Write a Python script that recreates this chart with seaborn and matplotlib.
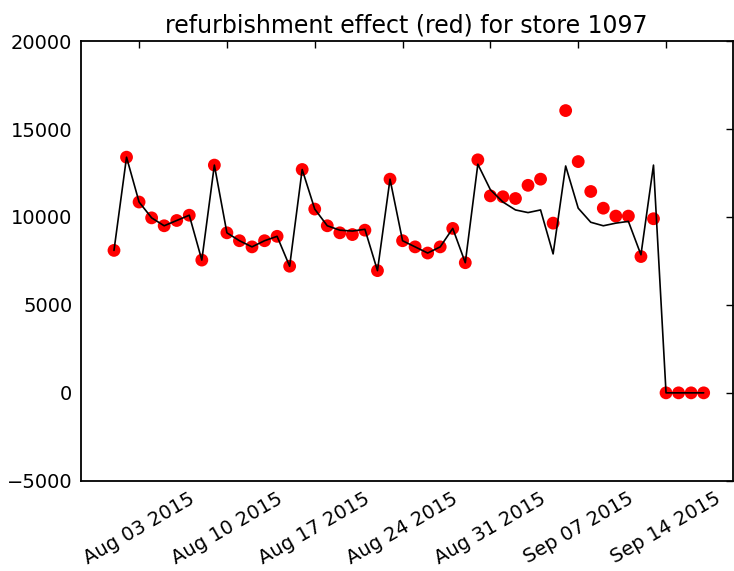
import matplotlib

matplotlib.use("Agg")
import matplotlib.dates as mdates
import matplotlib.pyplot as plt
import numpy as np
import pandas as pd
import seaborn as sns

# predictions for store 1097, Aug 01 -> Sep 17 2015
dates = pd.date_range("2015-08-01", "2015-09-17", freq="D")

# red dots: prediction with refurbishment effect
sales_refurb = [
    8100, 13400, 10850, 9950, 9500, 9800, 10100, 7550, 12950,
    9100, 8650, 8300, 8650, 8900, 7200, 12700, 10450, 9500,
    9100, 9000, 9250, 6950, 12150, 8650, 8300, 7950, 8300,
    9350, 7400, 13250, 11200, 11150, 11050, 11800, 12150, 9650,
    16050, 13150, 11450, 10500, 10050, 10050, 7750, 9900,
    0, 0, 0, 0,
]

# black line: prediction without refurbishment effect
sales_base = [
    8100, 13400, 10850, 9950, 9500, 9800, 10100, 7550, 12950,
    9100, 8650, 8300, 8650, 8900, 7200, 12700, 10450, 9500,
    9250, 9200, 9300, 6950, 12150, 8650, 8300, 7950, 8300,
    9350, 7400, 13000, 11550, 10850, 10400, 10250, 10400, 7900,
    12900, 10500, 9700, 9500, 9650, 9750, 7850, 12950,
    0, 0, 0, 0,
]

df = pd.DataFrame({"date": dates, "refurb": sales_refurb, "base": sales_base})

sns.set_style("white")
plt.rcParams["font.family"] = ["DejaVu Sans"]

fig = plt.figure(figsize=(7.34, 5.71), dpi=100)
ax = fig.add_axes([0.110, 0.158, 0.888, 0.770])

sns.scatterplot(data=df, x="date", y="refurb", ax=ax, color="red",
                s=85, edgecolor="none", linewidth=0, zorder=2)
sns.lineplot(data=df, x="date", y="base", ax=ax, color="black",
             linewidth=1.2, zorder=3)

ax.set_xlim(pd.Timestamp("2015-08-03") - pd.Timedelta(days=4.65),
            pd.Timestamp("2015-09-14") + pd.Timedelta(days=5.3))
ax.set_ylim(-5000, 20000)
ax.set_yticks(np.arange(-5000, 20001, 5000))
ax.xaxis.set_major_locator(mdates.WeekdayLocator(byweekday=mdates.MO))
ax.xaxis.set_major_formatter(mdates.DateFormatter("%b %d %Y"))

ax.set_xlabel("")
ax.set_ylabel("")
ax.set_title("refurbishment effect (red) for store 1097", fontsize=17,
             color="black", pad=6)

ax.tick_params(direction="in", length=5, width=1, top=True, right=True,
               labelsize=14, colors="black", pad=6)
plt.setp(ax.get_xticklabels(), rotation=30, ha="center")
for spine in ax.spines.values():
    spine.set_visible(True)
    spine.set_color("black")
    spine.set_linewidth(1.3)

fig.savefig("out.png", dpi=100)
plt.close(fig)
